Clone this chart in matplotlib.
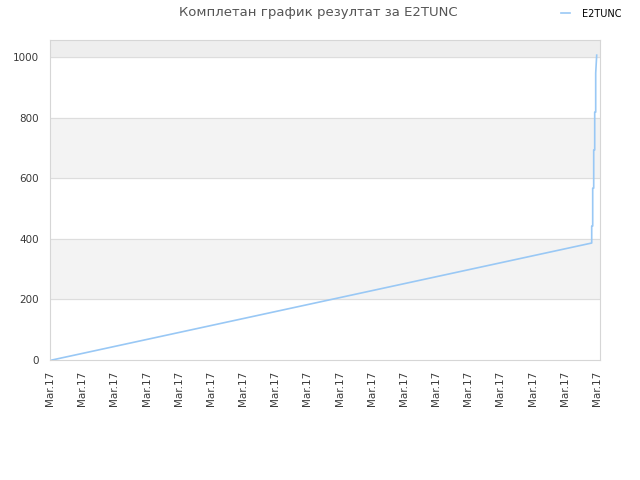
import matplotlib.pyplot as plt
import numpy as np

# score progression (x in arbitrary time units, y = score)
time_pts = [2, 541.7, 541.7, 542.7, 542.7, 543.7, 543.7, 544.7, 544.7, 545.7, 545.7, 546.7]
score_pts = [0, 386, 442, 442, 567, 567, 693, 693, 818, 818, 947, 1006]

tick_pos = np.linspace(0, 547, 18)
tick_labels = ["Mar.17"] * 18
y_ticks = [0, 200, 400, 600, 800, 1000]

fig = plt.figure(figsize=(6.4, 4.8), dpi=100)
ax = fig.add_axes([50/640, 120/480, 550/640, 320/480])

ax.set_xlim(0, 550)
ax.set_ylim(0, 1056)

# alternating bands
ax.axhspan(200, 400, color="#f3f3f3", zorder=0)
ax.axhspan(600, 800, color="#f3f3f3", zorder=0)
ax.axhspan(1000, 1056, color="#eeeeee", zorder=0)
for yv in y_ticks[1:]:
    ax.axhline(yv, color="#dddddd", lw=0.8, zorder=1)

ax.plot(time_pts, score_pts, color="#99c8f5", lw=1.2, zorder=3, label="E2TUNC")

ax.set_yticks(y_ticks)
ax.set_xticks(tick_pos)
ax.set_xticklabels(tick_labels, rotation=90)
ax.tick_params(length=0, labelsize=7.5, colors="#3a3a3a")
ax.tick_params(axis="x", pad=8)
ax.tick_params(axis="y", pad=8)
for s in ax.spines.values():
    s.set_color("#d6d6d6")

fig.text(0.497, 0.973, "Комплетан график резултат за E2TUNC", ha="center", va="center",
         fontsize=9.5, color="#555555")
leg = fig.legend(loc="upper right", bbox_to_anchor=(0.985, 1.0), frameon=False,
                 fontsize=7, handlelength=1.0, handletextpad=1.2)
plt.savefig("out.png")
